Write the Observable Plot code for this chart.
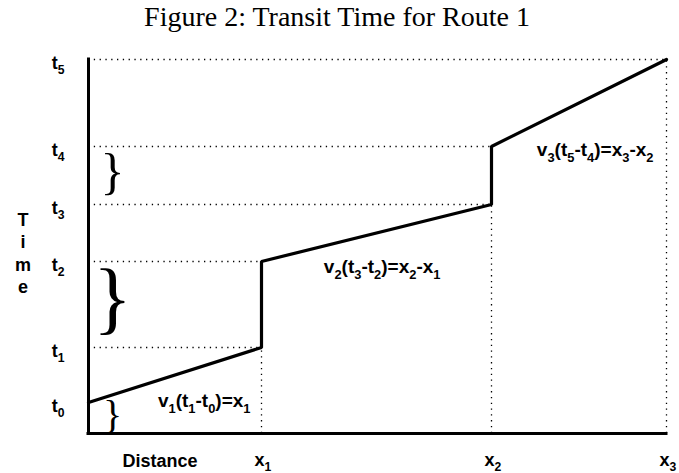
<!DOCTYPE html>
<html><head><meta charset="utf-8">
<script src="https://cdn.jsdelivr.net/npm/d3@7"></script>
<script src="https://cdn.jsdelivr.net/npm/@observablehq/plot@0.6"></script>
<style>
body{margin:0;background:#fff;}
#title{font-family:"Liberation Serif","Times New Roman",serif;font-size:28px;line-height:34px;height:34px;text-align:center;width:679px;padding-right:5px;box-sizing:border-box;color:#000;}
</style></head><body>
<div id="title">Figure 2: Transit Time for Route 1</div>
<div id="chart"></div>
<script>
// ---- data ----
const tLabels = ["t_0", "t_1", "t_2", "t_3", "t_4", "t_5"];
const tValues = [31, 86, 172, 229, 287, 374];
const xLabels = ["x_1", "x_2", "x_3"];
const xValues = [173, 403, 578];
const speedLabels = ["v_1(t_1-t_0)=x_1", "v_2(t_3-t_2)=x_2-x_1", "v_3(t_5-t_4)=x_3-x_2"];
const xTitle = "Distance";
const yTitle = "Time";

// route: distance reached at each time t0..t5
const routeX = [0, xValues[0], xValues[0], xValues[1], xValues[1], xValues[2]];
const route = tValues.map((t, i) => ({x: routeX[i], t}));
const hGuides = route.slice(1);
const vGuides = xValues.map((x, k) => ({x, t: tValues[2 * k + 1]}));
const braces = [[0, tValues[0]], [tValues[1], tValues[2]], [tValues[3], tValues[4]]];

const dotted = {stroke: "#000", strokeWidth: 1.3, strokeDasharray: "1.3 4.5"};
const braceOpts = (fs, dy) => ({x: 0, y: d => (d[0] + d[1]) / 2, text: () => "}", fontFamily: "Liberation Serif, Times New Roman, serif", fontWeight: "normal", fontSize: fs, textAnchor: "middle", lineAnchor: "middle", dx: 24, dy});

const chart = Plot.plot({
  width: 679, height: 439,
  marginLeft: 88, marginRight: 13, marginTop: 25, marginBottom: 40,
  x: {domain: [0, xValues[2]], axis: null},
  y: {domain: [0, tValues[5]], axis: null},
  style: {fontFamily: "Liberation Sans, Arial, sans-serif", fontWeight: "bold", fontSize: "18px", color: "#000", background: "#fff", overflow: "visible"},
  marks: [
    Plot.ruleY(hGuides, {y: "t", x1: 0, x2: "x", ...dotted}),
    Plot.ruleX(vGuides, {x: "x", y1: 0, y2: "t", ...dotted}),
    Plot.ruleX([0], {y1: 0, y2: tValues[5], stroke: "#000", strokeWidth: 3, strokeLinecap: "square"}),
    Plot.ruleY([0], {x1: 0, x2: xValues[2], stroke: "#000", strokeWidth: 3, strokeLinecap: "square"}),
    Plot.line(route, {x: "x", y: "t", stroke: "#000", strokeWidth: 3.2, strokeLinejoin: "miter"}),
    Plot.text(tValues, {x: 0, y: d => d, text: (d, i) => tLabels[i], textAnchor: "end", lineAnchor: "middle", dx: -24, dy: 4}),
    Plot.text(xValues, {x: d => d, y: 0, text: (d, i) => xLabels[i], textAnchor: "start", lineAnchor: "middle", dx: -7, dy: 27}),
    Plot.text([xTitle], {frameAnchor: "bottom-left", text: d => d, textAnchor: "middle", lineAnchor: "middle", dx: 71.5, dy: 28}),
    Plot.text([yTitle], {frameAnchor: "left", text: d => d.split("").join("\n"), textAnchor: "middle", lineAnchor: "middle", lineHeight: 1.25, dx: -65.5, dy: 6}),
    Plot.text([0], {x: () => xValues[0], y: () => tValues[0], text: () => speedLabels[0], fontSize: 19, textAnchor: "end", lineAnchor: "middle", dx: -11, dy: -2}),
    Plot.text([1], {x: () => xValues[1], y: () => tValues[2], text: () => speedLabels[1], fontSize: 19, textAnchor: "end", lineAnchor: "middle", dx: -51, dy: 5}),
    Plot.text([2], {x: () => xValues[2], y: () => tValues[4], text: () => speedLabels[2], fontSize: 19, textAnchor: "end", lineAnchor: "middle", dx: -13, dy: 3}),
    Plot.text([braces[0]], braceOpts(40, -3)),
    Plot.text([braces[1]], braceOpts(80, -6)),
    Plot.text([braces[2]], braceOpts(50, -4))
  ]
});
document.getElementById("chart").appendChild(chart);

// render "_d" as subscripts
function subscriptify(el) {
  const s = el.textContent;
  if (!s.includes("_")) return;
  const fs = parseFloat(getComputedStyle(el).fontSize) || 18;
  const shift = Math.round(fs * 0.3);
  el.textContent = "";
  const parts = s.split(/(_.)/).filter(p => p.length);
  let lowered = false;
  for (const p of parts) {
    const ts = document.createElementNS("http://www.w3.org/2000/svg", "tspan");
    if (p[0] === "_") {
      ts.textContent = p.slice(1);
      ts.setAttribute("font-size", (fs * 0.68).toFixed(1));
      if (!lowered) { ts.setAttribute("dy", shift); lowered = true; }
    } else {
      ts.textContent = p;
      if (lowered) { ts.setAttribute("dy", -shift); lowered = false; }
    }
    el.appendChild(ts);
  }
}
chart.querySelectorAll("text").forEach(subscriptify);
</script>
</body></html>
